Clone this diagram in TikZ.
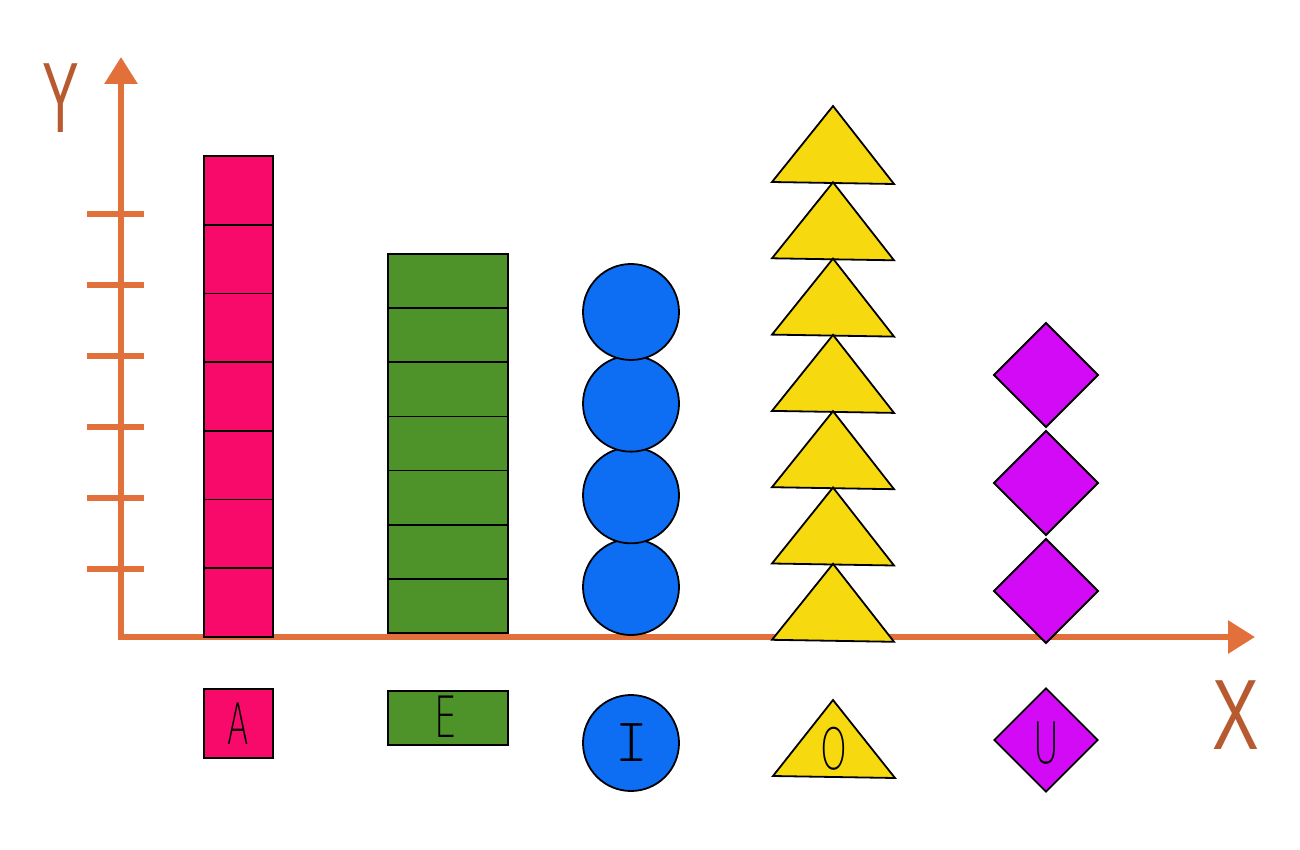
\documentclass[tikz,border=0pt]{standalone}
\usepackage{fontspec}
\usetikzlibrary{arrows.meta,shapes.geometric}
\setmainfont{Liberation Sans}
\newfontfamily\thinfont{DejaVu Sans ExtraLight}
\newfontfamily\lmlight{lmmonolt10-regular.otf}
\definecolor{cpink}{HTML}{F80A6B}
\definecolor{cgreen}{HTML}{4E922A}
\definecolor{cblue}{HTML}{0D6EF4}
\definecolor{cyellow}{HTML}{F6D90E}
\definecolor{cpurple}{HTML}{D20AF6}
\definecolor{caxis}{HTML}{E2703A}
\definecolor{clabel}{HTML}{B85A30}
\tikzset{
  axisline/.style={draw=caxis, line width=6pt},
  tickline/.style={draw=caxis, line width=5.5pt},
  shapeline/.style={draw=black, line width=1.8pt, line join=miter},
  axislabel/.style={text=clabel, inner sep=0pt, font=\fontsize{100}{100}\selectfont},
  letter/.style={text=black, inner sep=0pt, font=\thinfont\fontsize{57}{57}\selectfont},
  pinkbox/.style={shapeline, fill=cpink},
  greenbox/.style={shapeline, fill=cgreen},
  bluedisc/.style={shapeline, fill=cblue},
  yellowtri/.style={shapeline, fill=cyellow},
  purplediam/.style={shapeline, fill=cpurple},
}
\begin{document}
\begin{tikzpicture}[x=1pt,y=-1pt]
\useasboundingbox (0,0) rectangle (1300,850);
% axes
\coordinate (origin) at (121,637);
\coordinate (ytip) at (121,57);
\coordinate (xtip) at (1255,637);
\draw[axisline, -{Triangle[width=32pt,length=27pt]}] (121,640) -- (ytip);
\draw[axisline, -{Triangle[width=32pt,length=27pt]}] (118,637) -- (xtip);
\foreach \ty in {214,285,356,427,498,569}{
  \draw[tickline] (87,\ty) -- (144,\ty);
}
\node[axislabel] (ylab) at (61,98) {\scalebox{0.55}[1]{Y}};
\node[axislabel] (xlab) at (1236,715) {\scalebox{0.7}[1]{X}};
% pink stack
\foreach \i in {0,...,6}{
  \path[pinkbox] (204,{156+68.714*\i}) rectangle (273,{156+68.714*(\i+1)});
}
% green stack
\foreach \i in {0,...,6}{
  \path[greenbox] (388,{254+54.143*\i}) rectangle (508,{254+54.143*(\i+1)});
}
% blue circles
\foreach \i in {0,...,3}{
  \path[bluedisc] (631,{587-91.67*\i}) circle (48);
}
% yellow triangles
\foreach \i in {0,...,6}{
  \path[yellowtri] (833,{106+76.3*\i}) -- (894,{184+76.3*\i}) -- (772,{182+76.3*\i}) -- cycle;
}
% purple diamonds
\foreach \i in {0,...,2}{
  \path[purplediam] (1046,{375+108*\i-52}) -- (1098,{375+108*\i}) -- (1046,{375+108*\i+52}) -- (994,{375+108*\i}) -- cycle;
}
% legend
\node[pinkbox, rectangle, minimum width=69pt, minimum height=69pt, inner sep=0pt] (legA) at (238.5,723.5) {};
\node[letter] (tA) at (238.5,723.5) {\scalebox{0.55}[1]{A}};
\node[greenbox, rectangle, minimum width=120pt, minimum height=54pt, inner sep=0pt] (legE) at (448,718) {};
\node[letter] (tE) at (446,716.5) {\scalebox{0.63}[1]{E}};
\node[bluedisc, circle, minimum size=96pt, inner sep=0pt] (legI) at (631,743) {};
\node[letter, font=\lmlight\fontsize{62}{62}\selectfont] (tI) at (632,743) {I};
\coordinate (triapex) at (833,700);
\path[yellowtri] (triapex) -- (895,778) -- (773,776) -- cycle;
\node[letter] (tO) at (834,749) {\scalebox{0.6}[1]{O}};
\node[purplediam, diamond, minimum width=104pt, minimum height=104pt, inner sep=0pt] (legU) at (1046,740) {};
\node[letter] (tU) at (1046,743.5) {\scalebox{0.62}[1]{U}};
\end{tikzpicture}
\end{document}
